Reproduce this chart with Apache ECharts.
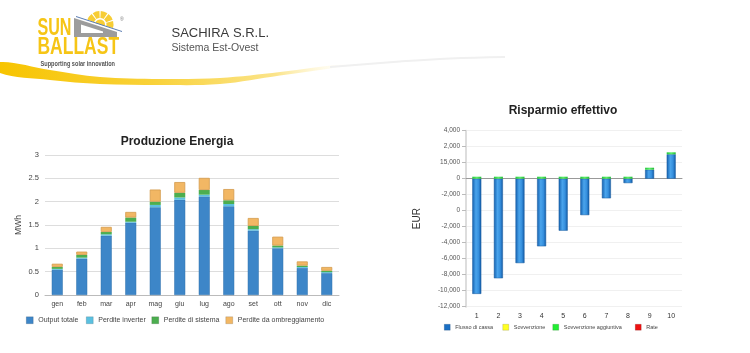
<!DOCTYPE html>
<html>
<head>
<meta charset="utf-8">
<title>SACHIRA S.R.L.</title>
<script src="https://cdn.jsdelivr.net/npm/echarts@6/dist/echarts.min.js"></script>
<style>
    html, body { margin: 0; padding: 0; background: #fff; }
    #main { width: 750px; height: 353px; }
</style>
</head>
<body>
<div id="main"></div>
<script>
// Produzione Energia (MWh)
const months = ['gen', 'feb', 'mar', 'apr', 'mag', 'giu', 'lug', 'ago', 'set', 'ott', 'nov', 'dic'];
const outputTotale = [0.54, 0.78, 1.27, 1.55, 1.88, 2.04, 2.11, 1.90, 1.38, 1.00, 0.58, 0.47];
const perditeInverter = [0.02, 0.02, 0.03, 0.02, 0.05, 0.05, 0.04, 0.05, 0.03, 0.02, 0.02, 0.02];
const perditeSistema = [0.04, 0.06, 0.05, 0.09, 0.07, 0.10, 0.10, 0.08, 0.07, 0.04, 0.03, 0.03];
const perditeOmbreggiamento = [0.07, 0.07, 0.11, 0.12, 0.26, 0.23, 0.26, 0.24, 0.17, 0.19, 0.09, 0.08];

// Risparmio effettivo (EUR, read against the drawn grid)
const anni = ['1', '2', '3', '4', '5', '6', '7', '8', '9', '10'];
const flussoDiCassa = [-14400, -12450, -10550, -8450, -6500, -4550, -2450, -550, 1125, 3050];
const sovvenzione = [0, 0, 0, 0, 0, 0, 0, 0, 0, 0];
const sovvenzioneAggiuntiva = [250, 250, 250, 250, 250, 250, 250, 250, 250, 250];
const rate = [0, 0, 0, 0, 0, 0, 0, 0, 0, 0];
// tick labels as printed on the picture, top to bottom
const eurTicks = ['4,000', '2,000', '15,000', '0', '-2,000', '0', '-2,000', '-4,000', '-6,000', '-8,000', '-10,000', '-12,000'];
const eurMax = 6000, eurMin = -16000, eurStep = 2000;

const font = 'Liberation Sans, Arial, sans-serif';

let chart = echarts.init(document.getElementById('main'));

function legendItem(name, left, top, color, size, fontSize) {
    return {
        left: left,
        top: top,
        padding: 0,
        icon: 'rect',
        itemWidth: size,
        itemHeight: size,
        selectedMode: false,
        textStyle: { fontSize: fontSize, color: '#444', fontFamily: font },
        data: [{ name: name, itemStyle: { color: color, borderColor: 'rgba(0,0,0,0.25)', borderWidth: 0.5 } }]
    };
}

let cashGradient = new echarts.graphic.LinearGradient(0, 0, 1, 0, [
    { offset: 0, color: '#125fae' },
    { offset: 0.4, color: '#4aa4ec' },
    { offset: 0.7, color: '#3690de' },
    { offset: 1, color: '#0f57a3' }
]);
let greenGradient = new echarts.graphic.LinearGradient(0, 0, 1, 0, [
    { offset: 0, color: '#22c53a' },
    { offset: 0.5, color: '#5cf06a' },
    { offset: 1, color: '#20b835' }
]);

// sun rays of the logo
let sunParts = [0, 1, 2, 3, 4].map(function(i) {
    let a0 = -Math.PI + i * Math.PI / 5 + 0.05;
    return {
        type: 'sector',
        shape: { cx: 0, cy: 0, r0: 6.5, r: 13.5, startAngle: a0, endAngle: a0 + Math.PI / 5 - 0.1 },
        style: { fill: '#f7cd35' }
    };
});
sunParts.push({
    type: 'sector',
    shape: { cx: 0, cy: 0, r0: 0, r: 5, startAngle: -Math.PI, endAngle: 0 },
    style: { fill: '#f7cd35' }
});

option = {
    animation: false,
    backgroundColor: '#fff',
    title: [
        {
            text: 'Produzione Energia',
            left: 177, top: 136, textAlign: 'center', padding: 0,
            textStyle: { fontSize: 12, fontWeight: 'bold', color: '#222', fontFamily: font }
        },
        {
            text: 'Risparmio effettivo',
            left: 563, top: 105, textAlign: 'center', padding: 0,
            textStyle: { fontSize: 12, fontWeight: 'bold', color: '#222', fontFamily: font }
        }
    ],
    legend: [
        legendItem('Output totale', 26, 316.5, '#3d86c8', 7, 7),
        legendItem('Perdite inverter', 86, 316.5, '#5bc0e0', 7, 7),
        legendItem('Perdite di sistema', 151.5, 316.5, '#4cae4f', 7, 7),
        legendItem('Perdite da ombreggiamento', 225.5, 316.5, '#f2b764', 7, 7),
        legendItem('Flusso di cassa', 444, 324, '#1a6fc4', 6, 5.5),
        legendItem('Sovvenzione', 502.5, 324, '#ffff22', 6, 5.5),
        legendItem('Sovvenzione aggiuntiva', 552.5, 324, '#22ee33', 6, 5.5),
        legendItem('Rate', 635, 324, '#ee1111', 6, 5.5)
    ],
    grid: [
        { left: 45, right: 411, top: 155, bottom: 58 },
        { left: 466, right: 68, top: 130.7, bottom: 46.3 }
    ],
    xAxis: [
        {
            type: 'category',
            gridIndex: 0,
            data: months,
            axisLine: { lineStyle: { color: '#bbb' } },
            axisTick: { length: 4, lineStyle: { color: '#bbb' } },
            axisLabel: { fontSize: 7, color: '#444', margin: 6, fontFamily: font }
        },
        {
            type: 'category',
            gridIndex: 1,
            data: anni,
            axisLine: { lineStyle: { color: '#999' } },
            axisTick: { length: 4, lineStyle: { color: '#999' } },
            axisLabel: { fontSize: 7, color: '#333', margin: 6, fontFamily: font }
        }
    ],
    yAxis: [
        {
            type: 'value',
            gridIndex: 0,
            min: 0,
            max: 3,
            interval: 0.5,
            name: 'MWh',
            nameLocation: 'middle',
            nameGap: 22,
            nameTextStyle: { fontSize: 8.5, color: '#444', fontFamily: font },
            axisLine: { show: false },
            axisTick: { show: false },
            axisLabel: { fontSize: 7.5, color: '#444', margin: 6, fontFamily: font },
            splitLine: { lineStyle: { color: '#ddd' } }
        },
        {
            type: 'value',
            gridIndex: 1,
            min: eurMin,
            max: eurMax,
            interval: eurStep,
            name: 'EUR',
            nameLocation: 'middle',
            nameGap: 44,
            nameTextStyle: { fontSize: 10, color: '#333', fontFamily: font },
            axisLine: { show: true, lineStyle: { color: '#ddd', width: 2 } },
            axisTick: { show: true, length: 4, lineStyle: { color: '#bbb' } },
            axisLabel: {
                fontSize: 6.5, color: '#555', margin: 6, fontFamily: font,
                formatter: function(v) {
                    return eurTicks[Math.round((eurMax - v) / eurStep)];
                }
            },
            splitLine: { lineStyle: { color: '#f0f0f0' } }
        }
    ],
    series: [
        {
            name: 'Output totale', type: 'bar', stack: 'energia', barWidth: 11,
            xAxisIndex: 0, yAxisIndex: 0, data: outputTotale,
            itemStyle: { color: '#3d86c8', borderColor: '#3273ad', borderWidth: 0.5 }
        },
        {
            name: 'Perdite inverter', type: 'bar', stack: 'energia', barWidth: 11,
            xAxisIndex: 0, yAxisIndex: 0, data: perditeInverter,
            itemStyle: { color: '#5bc0e0' }
        },
        {
            name: 'Perdite di sistema', type: 'bar', stack: 'energia', barWidth: 11,
            xAxisIndex: 0, yAxisIndex: 0, data: perditeSistema,
            itemStyle: { color: '#4cae4f' }
        },
        {
            name: 'Perdite da ombreggiamento', type: 'bar', stack: 'energia', barWidth: 11,
            xAxisIndex: 0, yAxisIndex: 0, data: perditeOmbreggiamento,
            itemStyle: { color: '#f2b764', borderColor: '#d39a4c', borderWidth: 0.8 }
        },
        {
            name: 'Flusso di cassa', type: 'bar', stack: 'cassa', barWidth: 9,
            xAxisIndex: 1, yAxisIndex: 1, data: flussoDiCassa,
            itemStyle: { color: cashGradient, borderColor: '#1a5d9e', borderWidth: 0.5 }
        },
        {
            name: 'Sovvenzione', type: 'bar', stack: 'cassa', barWidth: 9,
            xAxisIndex: 1, yAxisIndex: 1, data: sovvenzione,
            itemStyle: { color: '#ffff22' }
        },
        {
            name: 'Sovvenzione aggiuntiva', type: 'bar', stack: 'cassa', barWidth: 9,
            xAxisIndex: 1, yAxisIndex: 1, data: sovvenzioneAggiuntiva,
            itemStyle: { color: greenGradient }
        },
        {
            name: 'Rate', type: 'bar', stack: 'cassa', barWidth: 9,
            xAxisIndex: 1, yAxisIndex: 1, data: rate,
            itemStyle: { color: '#ee1111' }
        }
    ],
    graphic: [
        // yellow swoosh under the header
        {
            type: 'polygon',
            z: 1,
            shape: {
                smooth: 0.35,
                points: [[0, 62], [50, 70], [100, 77], [160, 79], [220, 78], [280, 72], [345, 64],
                    [345, 66], [280, 75.5], [220, 84], [160, 85], [100, 84], [50, 80], [0, 73]]
            },
            style: {
                fill: new echarts.graphic.LinearGradient(0, 0, 1, 0, [
                    { offset: 0, color: '#f7c400' },
                    { offset: 0.45, color: '#f9d23a' },
                    { offset: 0.8, color: '#fbe48a' },
                    { offset: 1, color: 'rgba(255,245,200,0)' }
                ])
            }
        },
        {
            type: 'polyline',
            z: 1,
            shape: { smooth: 0.4, points: [[330, 67], [400, 61.5], [450, 58.5], [505, 57]] },
            style: { fill: null, stroke: '#f0f0f0', lineWidth: 2 }
        },
        // logo: roof + sun
        {
            type: 'polygon', z: 2,
            shape: { points: [[74, 18], [117, 32], [117, 37], [74, 37]] },
            style: { fill: '#9c9c9c' }
        },
        {
            type: 'polygon', z: 3,
            shape: { points: [[81, 24.5], [103, 31.5], [103, 33], [81, 33]] },
            style: { fill: '#fff' }
        },
        {
            type: 'line', z: 4,
            shape: { x1: 76, y1: 16.5, x2: 122, y2: 31.5 },
            style: { stroke: '#5b7db3', lineWidth: 1 }
        },
        {
            type: 'group', x: 100, y: 24.5, rotation: -0.32, z: 4,
            children: sunParts
        },
        {
            type: 'text', x: 120, y: 17, z: 4,
            style: { text: '®', fontSize: 5, fill: '#777', fontFamily: font }
        },
        {
            type: 'text', x: 37.5, y: 28.5, scaleX: 0.7, z: 4,
            style: {
                text: 'SUN', fontSize: 23, fontWeight: 'bold', fill: '#f6c516',
                fontFamily: font, verticalAlign: 'middle'
            }
        },
        {
            type: 'text', x: 37.5, y: 48, scaleX: 0.76, z: 4,
            style: {
                text: 'BALLAST', fontSize: 23, fontWeight: 'bold', fill: '#f6c516',
                fontFamily: font, verticalAlign: 'middle'
            }
        },
        {
            type: 'text', x: 40.5, y: 64.3, scaleX: 0.86, z: 4,
            style: {
                text: 'Supporting solar innovation', fontSize: 6.5, fontWeight: 'bold', fill: '#555',
                fontFamily: font, verticalAlign: 'middle'
            }
        },
        // company header
        {
            type: 'text', x: 171.5, y: 33.5, z: 4,
            style: { text: 'SACHIRA S.R.L.', fontSize: 13, fill: '#3a3a3a', fontFamily: font, verticalAlign: 'middle' }
        },
        {
            type: 'text', x: 171.5, y: 48.5, z: 4,
            style: { text: 'Sistema Est-Ovest', fontSize: 10.5, fill: '#555', fontFamily: font, verticalAlign: 'middle' }
        }
    ]
};
chart.setOption(option);
</script>
</body>
</html>
